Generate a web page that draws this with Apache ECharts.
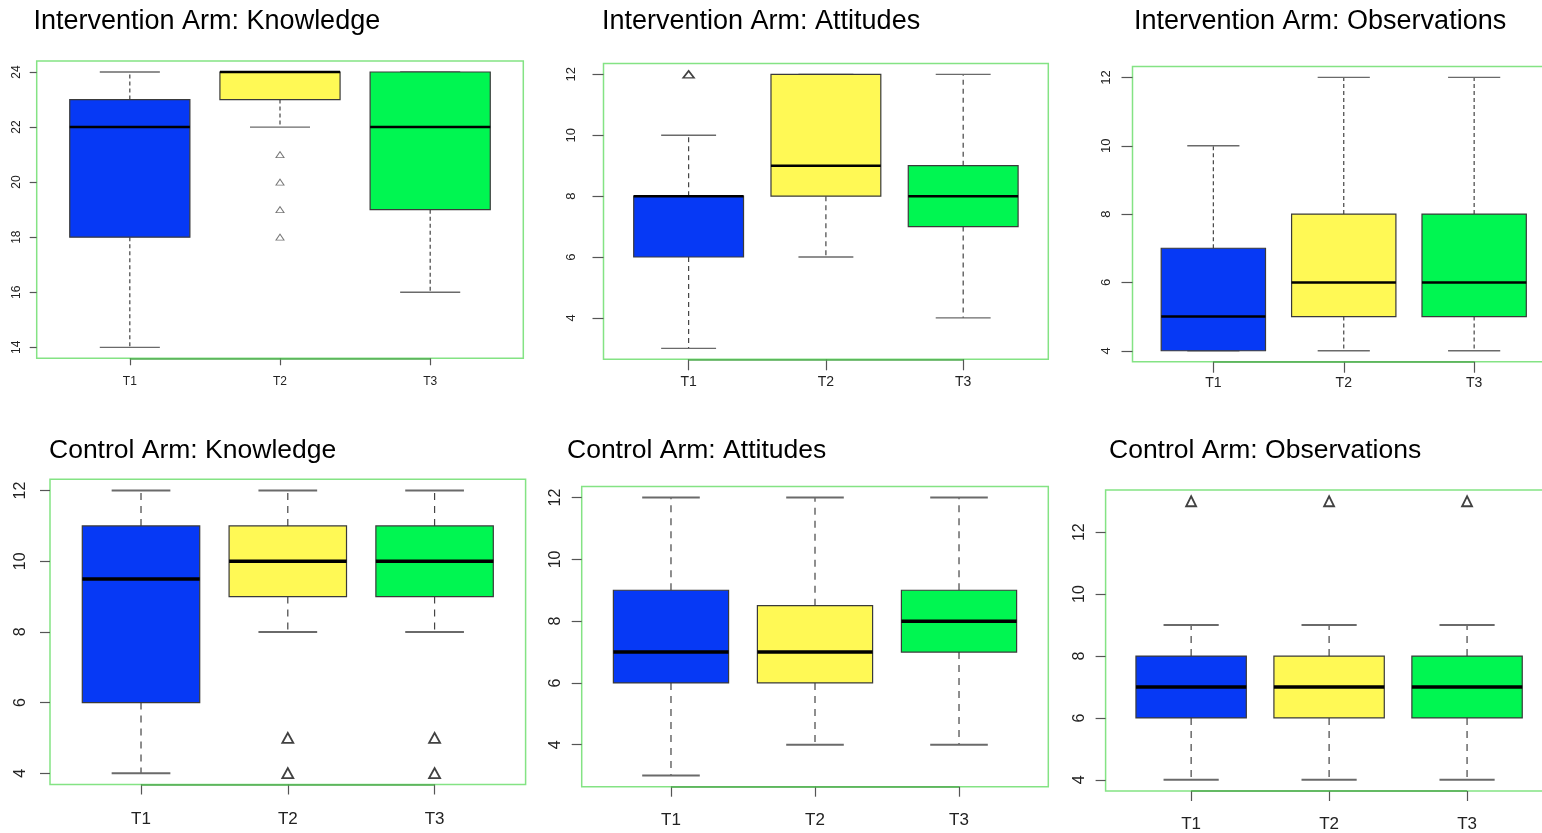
<!DOCTYPE html>
<html><head><meta charset="utf-8">
<script src="https://cdn.jsdelivr.net/npm/echarts@6/dist/echarts.min.js"></script>
<style>html,body{margin:0;padding:0;background:#fff;overflow:hidden;width:1542px;height:833px}#c{width:1580px;height:833px}</style>
</head><body><div id="c"></div>
<script>
// ---------- data ----------
const categories = ['T1', 'T2', 'T3'];
const catPos = [1, 2, 3];
const panelTitles = [
  'Intervention Arm: Knowledge', 'Intervention Arm: Attitudes', 'Intervention Arm: Observations',
  'Control Arm: Knowledge', 'Control Arm: Attitudes', 'Control Arm: Observations'
];
// box stats per group: [min whisker, Q1, median, Q3, max whisker]
const intKnowStats = [[14, 18, 22, 23, 24], [22, 23, 24, 24, 24], [16, 19, 22, 24, 24]];
const intKnowOut   = [[], [21, 20, 19, 18], []];
const intAttStats  = [[3, 6, 8, 8, 10], [6, 8, 9, 12, 12], [4, 7, 8, 9, 12]];
const intAttOut    = [[12], [], []];
const intObsStats  = [[4, 4, 5, 7, 10], [4, 5, 6, 8, 12], [4, 5, 6, 8, 12]];
const intObsOut    = [[], [], []];
const ctlKnowStats = [[4, 6, 9.5, 11, 12], [8, 9, 10, 11, 12], [8, 9, 10, 11, 12]];
const ctlKnowOut   = [[], [5, 4], [5, 4]];
const ctlAttStats  = [[3, 6, 7, 9, 12], [4, 6, 7, 8.5, 12], [4, 7, 8, 9, 12]];
const ctlAttOut    = [[], [], []];
const ctlObsStats  = [[4, 6, 7, 8, 9], [4, 6, 7, 8, 9], [4, 6, 7, 8, 9]];
const ctlObsOut    = [[13], [13], [13]];
const knowTicks = [14, 16, 18, 20, 22, 24];
const scoreTicks = [4, 6, 8, 10, 12];

const panelStats = [intKnowStats, intAttStats, intObsStats, ctlKnowStats, ctlAttStats, ctlObsStats];
const panelOut = [intKnowOut, intAttOut, intObsOut, ctlKnowOut, ctlAttOut, ctlObsOut];
const panelTicks = [knowTicks, scoreTicks, scoreTicks, scoreTicks, scoreTicks, scoreTicks];

// ---------- layout / style ----------
const boxColors = ['#0639F5', '#FFF955', '#00F651'];
const layout = [
  {left: 36.7, top: 61, width: 486.6, height: 297.3, fx: 12, fy: 12, tick: 7, mx: 17, my: 14, dash: [4, 3], med: 2.5, cap: 1.3, tri: [8, 6], triW: 1, triC: '#555', tl: 33.5, tt: 8.5, tf: 27},
  {left: 603.5, top: 63.4, width: 444.8, height: 295.9, fx: 14, fy: 13, tick: 11, mx: 15.5, my: 26, dash: [5, 4], med: 2.5, cap: 1.3, tri: [11, 7], triW: 1.5, triC: '#111', tl: 602, tt: 8.5, tf: 27},
  {left: 1132.5, top: 66.5, width: 422.5, height: 295.2, fx: 14, fy: 13, tick: 11, mx: 14.5, my: 20, dash: [4, 3], med: 2.5, cap: 1.3, tri: [10, 8], triW: 1.5, triC: '#111', tl: 1134, tt: 8.5, tf: 27},
  {left: 50, top: 479.3, width: 475.6, height: 305.2, fx: 17, fy: 16, tick: 10, mx: 26, my: 21, dash: [7, 6], med: 3.5, cap: 2, tri: [11, 10], triW: 1.8, triC: '#111', tl: 49, tt: 437, tf: 26.5},
  {left: 581.7, top: 486.5, width: 466.6, height: 300.2, fx: 17, fy: 16, tick: 10, mx: 25, my: 18, dash: [7, 6], med: 3.5, cap: 2, tri: [11, 10], triW: 1.8, triC: '#111', tl: 567, tt: 437, tf: 26.5},
  {left: 1105.6, top: 490.1, width: 447, height: 301, fx: 17, fy: 16, tick: 10, mx: 25, my: 18, dash: [7, 6], med: 3.5, cap: 2, tri: [10, 10], triW: 1.8, triC: '#111', tl: 1109, tt: 437, tf: 26.5}
];
const FONT = '"Liberation Sans", Arial, Helvetica, sans-serif';

const chart = echarts.init(document.getElementById('c'), null, {renderer: 'canvas'});

const grids = [], xAxes = [], yAxes = [], series = [], titles = [];
const X_MIN = 0.38, X_MAX = 3.62;

layout.forEach((L, i) => {
  const stats = panelStats[i], outs = panelOut[i];
  let lo = Infinity, hi = -Infinity;
  stats.forEach((s, g) => {
    s.concat(outs[g]).forEach(v => { lo = Math.min(lo, v); hi = Math.max(hi, v); });
  });
  const pad = (hi - lo) * 0.04;
  const yMin = lo - pad, yMax = hi + pad;

  titles.push({
    text: panelTitles[i], left: L.tl, top: L.tt, padding: 0,
    textStyle: {fontFamily: FONT, fontSize: L.tf, fontWeight: 'normal', color: '#000'}
  });
  grids.push({left: L.left, top: L.top, width: L.width, height: L.height, show: true,
    borderColor: '#84e384', borderWidth: 1.5, backgroundColor: '#fff', containLabel: false});
  xAxes.push({
    type: 'value', gridIndex: i, min: X_MIN, max: X_MAX,
    axisLine: {show: false, onZero: false},
    splitLine: {show: false},
    axisTick: {show: true, customValues: catPos, length: L.tick, lineStyle: {color: '#555', width: 1.2}},
    axisLabel: {show: true, customValues: catPos, margin: L.mx, fontFamily: FONT, fontSize: L.fx, color: '#222',
      formatter: v => categories[Math.round(v) - 1] || ''}
  });
  yAxes.push({
    type: 'value', gridIndex: i, min: yMin, max: yMax,
    axisLine: {show: false, onZero: false},
    splitLine: {show: false},
    axisTick: {show: true, customValues: panelTicks[i], length: L.tick, lineStyle: {color: '#555', width: 1.2}},
    axisLabel: {show: true, customValues: panelTicks[i], rotate: 90, margin: L.my, fontFamily: FONT, fontSize: L.fy, color: '#222',
      formatter: v => String(Math.round(v * 100) / 100)}
  });

  const boxData = stats.map((s, g) => [catPos[g]].concat(s));
  series.push({
    type: 'custom', xAxisIndex: i, yAxisIndex: i,
    data: boxData,
    encode: {x: 0, y: [1, 2, 3, 4, 5]},
    renderItem: (params, api) => {
      const x = api.value(0);
      const mn = api.value(1), q1 = api.value(2), md = api.value(3), q3 = api.value(4), mx = api.value(5);
      const c = (a, b) => api.coord([a, b]);
      const hw = 0.4, cw = 0.2;
      const pMax = c(x, mx), pQ3 = c(x, q3), pQ1 = c(x, q1), pMin = c(x, mn);
      const bl = c(x - hw, q3), br = c(x + hw, q1);
      const cl = c(x - cw, 0)[0], cr = c(x + cw, 0)[0];
      const wStyle = {stroke: '#444', lineWidth: 1.2, lineDash: L.dash};
      const capStyle = {stroke: '#6a6a6a', lineWidth: L.cap};
      return {
        type: 'group',
        children: [
          {type: 'line', shape: {x1: pQ3[0], y1: pQ3[1], x2: pMax[0], y2: pMax[1]}, style: wStyle},
          {type: 'line', shape: {x1: pQ1[0], y1: pQ1[1], x2: pMin[0], y2: pMin[1]}, style: wStyle},
          {type: 'line', shape: {x1: cl, y1: pMax[1], x2: cr, y2: pMax[1]}, style: capStyle},
          {type: 'line', shape: {x1: cl, y1: pMin[1], x2: cr, y2: pMin[1]}, style: capStyle},
          {type: 'rect', shape: {x: bl[0], y: bl[1], width: br[0] - bl[0], height: br[1] - bl[1]},
            style: {fill: boxColors[params.dataIndex], stroke: '#3a3a3a', lineWidth: 1.2}},
          {type: 'line', shape: {x1: bl[0], y1: c(x, md)[1], x2: br[0], y2: c(x, md)[1]},
            style: {stroke: '#000', lineWidth: L.med}}
        ]
      };
    },
    // R-style axis line running from the first to the last tick along the bottom edge
    markLine: {
      silent: true, symbol: 'none', animation: false,
      label: {show: false},
      lineStyle: {color: '#4faa4f', width: 1.5, type: 'solid'},
      data: [[{coord: [catPos[0], yMin]}, {coord: [catPos[catPos.length - 1], yMin]}]]
    }
  });

  const outData = [];
  outs.forEach((arr, g) => arr.forEach(v => outData.push([catPos[g], v])));
  if (outData.length) {
    series.push({
      type: 'scatter', xAxisIndex: i, yAxisIndex: i, data: outData,
      symbol: 'triangle', symbolSize: L.tri,
      itemStyle: {color: 'rgba(0,0,0,0)', borderColor: L.triC, borderWidth: L.triW},
      silent: true, z: 5
    });
  }
});

chart.setOption({
  animation: false,
  backgroundColor: '#fff',
  title: titles,
  grid: grids,
  xAxis: xAxes,
  yAxis: yAxes,
  series: series
});
</script>
</body></html>
